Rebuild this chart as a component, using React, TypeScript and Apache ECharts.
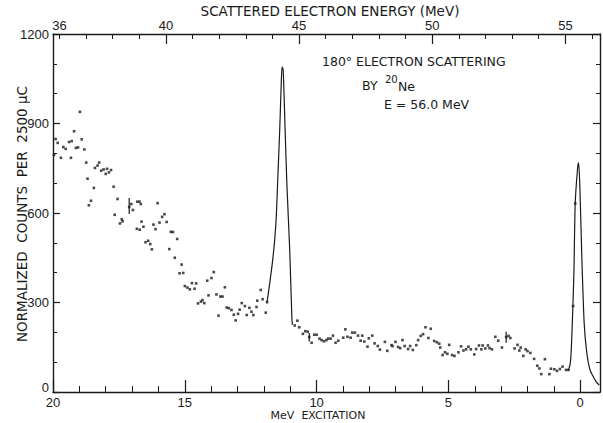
import React, { useEffect, useRef } from "react";
import * as echarts from "echarts";

// Excitation energy (MeV) and normalized counts for each measured channel.
const continuumHigh: [number, number][] = [
  [19.96, 795], [19.9, 848], [19.82, 835], [19.7, 785], [19.61, 821], [19.52, 815],
  [19.39, 838], [19.32, 785], [19.29, 841], [19.2, 874], [19.13, 818], [19.05, 820],
  [18.98, 939], [18.91, 847], [18.81, 813], [18.74, 769], [18.69, 715], [18.64, 626],
  [18.56, 641], [18.45, 684], [18.41, 751], [18.31, 759], [18.25, 769], [18.17, 742],
  [18.08, 746], [18.0, 731], [17.95, 748], [17.88, 736], [17.8, 744], [17.7, 688],
  [17.66, 594], [17.55, 647], [17.46, 565], [17.39, 579], [17.36, 572], [17.11, 620],
  [17.03, 630], [16.97, 610], [16.82, 547], [16.8, 638], [16.72, 638], [16.71, 544],
  [16.67, 630], [16.64, 571], [16.57, 554], [16.49, 502], [16.39, 507], [16.31, 496],
  [16.25, 478], [16.19, 561], [16.11, 546], [16.03, 633], [15.96, 568], [15.86, 587],
  [15.77, 596], [15.69, 570], [15.59, 479], [15.53, 537], [15.45, 536], [15.38, 450],
  [15.29, 513], [15.2, 398], [15.12, 427], [15.06, 399], [15.0, 355], [14.9, 350],
  [14.81, 344], [14.73, 365], [14.63, 346], [14.57, 364], [14.5, 297], [14.39, 303],
  [14.33, 308], [14.26, 298], [14.15, 373], [14.1, 324], [13.99, 382], [13.9, 402],
  [13.8, 327], [13.72, 256], [13.65, 320], [13.57, 320], [13.48, 351], [13.41, 283],
  [13.33, 281], [13.23, 275], [13.14, 259], [13.07, 240], [12.98, 262], [12.92, 276],
  [12.84, 298], [12.72, 288], [12.65, 258], [12.55, 282], [12.47, 269], [12.4, 258],
  [12.28, 285], [12.25, 306], [12.12, 342], [12.05, 311], [11.93, 266], [11.88, 301],
];

const continuumLow: [number, number][] = [
  [10.83, 223], [10.73, 239], [10.66, 217], [10.52, 195], [10.43, 204], [10.34, 202],
  [10.28, 184], [10.19, 165], [10.09, 192], [10.0, 192], [9.89, 179], [9.81, 174],
  [9.72, 170], [9.63, 174], [9.56, 179], [9.47, 179], [9.38, 189], [9.28, 165],
  [9.18, 172], [8.99, 182], [8.91, 210], [8.83, 185], [8.71, 182], [8.65, 199],
  [8.55, 199], [8.43, 189], [8.33, 172], [8.27, 189], [8.19, 169], [8.07, 152],
  [8.02, 180], [7.89, 189], [7.8, 163], [7.68, 154], [7.6, 142], [7.41, 168],
  [7.32, 138], [7.16, 157], [7.12, 154], [7.01, 168], [6.91, 151], [6.83, 147],
  [6.74, 174], [6.66, 154], [6.53, 144], [6.45, 154], [6.35, 141], [6.22, 157],
  [6.15, 174], [6.05, 188], [5.96, 194], [5.87, 217], [5.76, 181], [5.67, 212],
  [5.54, 171], [5.44, 167], [5.35, 162], [5.31, 149], [5.22, 124], [5.13, 133],
  [5.04, 128], [4.97, 158], [4.86, 124], [4.77, 121], [4.62, 133], [4.52, 153],
  [4.43, 139], [4.33, 143], [4.24, 152], [4.15, 143], [4.02, 126], [3.95, 144],
  [3.84, 156], [3.75, 143], [3.7, 156], [3.6, 146], [3.5, 156], [3.44, 147],
  [3.35, 143], [3.22, 185], [3.11, 172], [2.97, 149], [2.81, 184], [2.72, 188],
  [2.65, 181], [2.49, 146], [2.38, 158], [2.31, 139], [2.26, 149], [2.16, 121],
  [2.07, 143], [2.0, 137], [1.89, 131], [1.75, 111], [1.63, 88], [1.55, 79],
  [1.48, 60], [1.34, 110], [1.17, 60], [1.11, 78], [0.98, 76], [0.88, 71],
  [0.77, 77], [0.67, 85], [0.54, 74], [0.45, 74], [0.27, 288], [0.19, 632],
];

// Statistical error bars: [excitation, low, high]
const errorBars: [number, number, number][] = [
  [17.11, 597, 650],
  [10.28, 169, 198],
  [2.81, 165, 202],
];

// Fitted line shape of the 11.2 MeV state
const peak112: [number, number][] = [
  [11.88, 301], [11.78, 364], [11.68, 432], [11.59, 510], [11.53, 588], [11.47, 722],
  [11.4, 878], [11.35, 1012], [11.31, 1090], [11.27, 1080], [11.21, 923], [11.13, 701],
  [11.02, 476], [10.94, 252], [10.92, 225],
];

// Fitted elastic peak
const elasticPeak: [number, number][] = [
  [0.45, 72], [0.38, 95], [0.34, 141], [0.29, 258], [0.24, 398], [0.19, 632],
  [0.1, 750], [0.06, 768], [0.01, 677], [-0.06, 453], [-0.15, 230], [-0.25, 130],
  [-0.37, 74], [-0.47, 55], [-0.6, 35], [-0.72, 23],
];

const excitationLabels = [0, 5, 10, 15, 20];
const excitationMinor = Array.from({ length: 21 }, (_, i) => i);
const energyLabels = [36, 40, 45, 50, 55];
const energyMajor = [40, 45, 50, 55];
const energyMinor = Array.from({ length: 21 }, (_, i) => 36 + i);

const INK = "#1a1a1a";
const NUM_FONT = "Liberation Sans";
const TXT_FONT = "DejaVu Sans";

export default function App() {
  const ref = useRef<HTMLDivElement>(null);

  useEffect(() => {
    if (!ref.current) return;
    const chart = echarts.init(ref.current, null, { renderer: "svg" });

    const axisLine = { show: true, onZero: false, lineStyle: { color: INK, width: 1.4 } };
    const noLine = { show: false, onZero: false };
    const xRange = { min: -0.75, max: 20 };
    const topRange = { min: 35.76, max: 56.3 };
    const numLabel = { color: INK, fontFamily: NUM_FONT, fontSize: 13 };

    chart.setOption({
      animation: false,
      backgroundColor: "#ffffff",
      grid: { left: 53, right: 3, top: 34, bottom: 31, containLabel: false },
      xAxis: [
        {
          type: "value",
          position: "bottom",
          inverse: true,
          ...xRange,
          axisLine,
          splitLine: { show: false },
          axisTick: {
            show: true,
            inside: true,
            length: 12,
            customValues: excitationLabels,
            lineStyle: { color: INK, width: 1.2 },
          },
          axisLabel: { show: true, customValues: excitationLabels, margin: 4, ...numLabel },
        },
        {
          type: "value",
          position: "bottom",
          inverse: true,
          ...xRange,
          axisLine: noLine,
          splitLine: { show: false },
          axisTick: {
            show: true,
            inside: true,
            length: 6,
            customValues: excitationMinor,
            lineStyle: { color: INK, width: 1 },
          },
          axisLabel: { show: false },
        },
        {
          type: "value",
          position: "top",
          ...topRange,
          axisLine,
          splitLine: { show: false },
          axisTick: {
            show: true,
            inside: true,
            length: 10,
            customValues: energyMajor,
            lineStyle: { color: INK, width: 1.2 },
          },
          axisLabel: { show: true, customValues: energyLabels, margin: 2, ...numLabel },
        },
        {
          type: "value",
          position: "top",
          ...topRange,
          axisLine: noLine,
          splitLine: { show: false },
          axisTick: {
            show: true,
            inside: true,
            length: 5,
            customValues: energyMinor,
            lineStyle: { color: INK, width: 1 },
          },
          axisLabel: { show: false },
        },
      ],
      yAxis: [
        {
          type: "value",
          position: "left",
          min: 0,
          max: 1200,
          interval: 300,
          axisLine,
          splitLine: { show: false },
          axisTick: { show: true, inside: true, length: 7, lineStyle: { color: INK, width: 1.2 } },
          minorTick: { show: true, splitNumber: 3, length: 4, lineStyle: { color: INK, width: 1 } },
          axisLabel: {
            margin: 4,
            ...numLabel,
            // the zero label sits just above the corner so it clears the "20" below
            formatter: (v: number) => (v === 0 ? "{low|0}" : String(v)),
            rich: {
              low: { color: INK, fontFamily: NUM_FONT, fontSize: 13, padding: [0, 0, 10, 0] },
            },
          },
        },
        {
          type: "value",
          position: "right",
          min: 0,
          max: 1200,
          interval: 300,
          axisLine,
          splitLine: { show: false },
          axisTick: { show: true, inside: true, length: 7, lineStyle: { color: INK, width: 1.2 } },
          minorTick: { show: true, splitNumber: 3, length: 4, lineStyle: { color: INK, width: 1 } },
          axisLabel: { show: false },
        },
      ],
      series: [
        {
          type: "scatter",
          xAxisIndex: 0,
          yAxisIndex: 0,
          data: continuumHigh,
          symbol: "rect",
          symbolSize: 2.6,
          itemStyle: { color: INK },
        },
        {
          type: "scatter",
          xAxisIndex: 0,
          yAxisIndex: 0,
          data: continuumLow,
          symbol: "rect",
          symbolSize: 2.6,
          itemStyle: { color: INK },
        },
        {
          type: "line",
          xAxisIndex: 0,
          yAxisIndex: 0,
          data: peak112,
          smooth: 0.25,
          showSymbol: false,
          lineStyle: { color: INK, width: 1.2 },
        },
        {
          type: "line",
          xAxisIndex: 0,
          yAxisIndex: 0,
          data: elasticPeak,
          smooth: 0.25,
          showSymbol: false,
          lineStyle: { color: INK, width: 1.2 },
        },
        {
          type: "custom",
          xAxisIndex: 0,
          yAxisIndex: 0,
          data: errorBars,
          renderItem: (_params: any, api: any) => {
            const lo = api.coord([api.value(0), api.value(1)]);
            const hi = api.coord([api.value(0), api.value(2)]);
            return {
              type: "line",
              shape: { x1: lo[0], y1: lo[1], x2: hi[0], y2: hi[1] },
              style: { stroke: INK, lineWidth: 1.2 },
            };
          },
        },
      ],
      graphic: [
        {
          type: "text",
          x: 330,
          y: 11,
          style: {
            text: "SCATTERED ELECTRON ENERGY (MeV)",
            fill: INK,
            font: `13.5px "${TXT_FONT}"`,
            align: "center",
            verticalAlign: "middle",
          },
        },
        {
          type: "text",
          x: 318,
          y: 415,
          style: {
            text: "MeV  EXCITATION",
            fill: INK,
            font: `11px "${TXT_FONT}"`,
            align: "center",
            verticalAlign: "middle",
          },
        },
        {
          type: "text",
          x: 22,
          y: 214,
          rotation: Math.PI / 2,
          style: {
            text: "NORMALIZED  COUNTS  PER  2500 \u03bcC",
            fill: INK,
            font: `13.5px "${TXT_FONT}"`,
            align: "center",
            verticalAlign: "middle",
          },
        },
        {
          type: "text",
          x: 322,
          y: 61,
          style: {
            text: "180\u00b0 ELECTRON SCATTERING",
            fill: INK,
            font: `12.5px "${TXT_FONT}"`,
            align: "left",
            verticalAlign: "middle",
          },
        },
        {
          type: "text",
          x: 362,
          y: 85,
          style: {
            text: "BY",
            fill: INK,
            font: `12.5px "${TXT_FONT}"`,
            align: "left",
            verticalAlign: "middle",
          },
        },
        {
          type: "text",
          x: 385,
          y: 79,
          style: {
            text: "20",
            fill: INK,
            font: `10px "${TXT_FONT}"`,
            align: "left",
            verticalAlign: "middle",
          },
        },
        {
          type: "text",
          x: 398,
          y: 86,
          style: {
            text: "Ne",
            fill: INK,
            font: `12.5px "${TXT_FONT}"`,
            align: "left",
            verticalAlign: "middle",
          },
        },
        {
          type: "text",
          x: 384,
          y: 104,
          style: {
            text: "E = 56.0 MeV",
            fill: INK,
            font: `12.5px "${TXT_FONT}"`,
            align: "left",
            verticalAlign: "middle",
          },
        },
      ],
    });

    return () => chart.dispose();
  }, []);

  return <div ref={ref} style={{ width: 603, height: 423, position: "absolute", left: 0, top: 0 }} />;
}
